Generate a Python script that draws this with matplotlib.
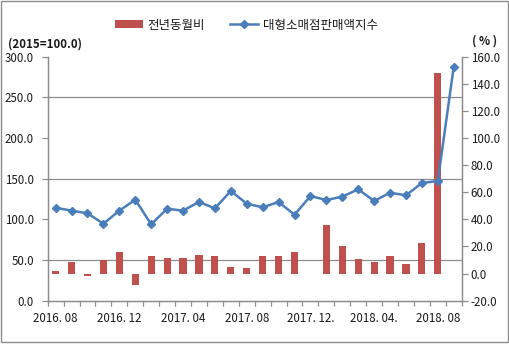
import numpy as np
import matplotlib
matplotlib.use("Agg")
import matplotlib.pyplot as plt
from matplotlib.ticker import FixedLocator, MultipleLocator, FormatStrFormatter, NullFormatter
from matplotlib.patches import Patch, Rectangle
from matplotlib.lines import Line2D

plt.rcParams['font.family'] = ['Noto Sans CJK KR', 'DejaVu Sans']

# Monthly categories
months = ['2016.08', '2016.09', '2016.10', '2016.11', '2016.12', '2017.01',
          '2017.02', '2017.03', '2017.04', '2017.05', '2017.06', '2017.07',
          '2017.08', '2017.09', '2017.10', '2017.11', '2017.12', '2018.01',
          '2018.02', '2018.03', '2018.04', '2018.05', '2018.06', '2018.07',
          '2018.08', '2018.09']

# Large-scale retail sales index (2015=100.0), left axis
sales_index = [114.3, 110.7, 107.5, 94.7, 110.7, 124.2, 93.9, 113.1, 110.7,
               121.4, 113.6, 134.9, 119.3, 114.8, 121.4, 105.7, 128.7, 123.8,
               127.9, 137.0, 122.6, 132.8, 129.6, 144.7, 147.2, 287.7]

# Year-on-year change (%), right axis
yoy_change = [1.8, 8.8, -2.0, 10.3, 16.2, -8.4, 13.2, 11.7, 11.7, 13.9, 13.2,
              4.6, 3.9, 13.2, 12.7, 15.7, -0.5, 36.0, 20.7, 10.5, 8.8, 13.2,
              7.4, 22.9, 147.8]

# Labelled months on the category axis
tick_months = ['2016.08', '2016.12', '2017.04', '2017.08', '2017.12', '2018.04', '2018.08']
tick_texts = ['2016. 08', '2016. 12', '2017. 04', '2017. 08', '2017. 12.', '2018. 04.', '2018. 08']

legend_bar = '전년동월비'
legend_line = '대형소매점판매액지수'

BAR_COLOR = '#C0504D'
LINE_COLOR = '#4A7EBB'
GRID_COLOR = '#8C8C8C'
TEXT_COLOR = '#1A1A1A'
FS = 8.3

fig = plt.figure(figsize=(5.10, 3.47), dpi=100)
ax = fig.add_axes([0.0935, 0.1334, 0.8118, 0.7032])
ax2 = ax.twinx()

x = np.arange(len(months))
xb = np.arange(len(yoy_change))

# bars on the right (%) axis
ax2.bar(xb, yoy_change, width=0.45, color=BAR_COLOR, zorder=3)
ax2.set_ylim(-20, 160)
ax2.yaxis.set_major_locator(MultipleLocator(20))
ax2.yaxis.set_major_formatter(FormatStrFormatter('%.1f'))
# gridlines follow the left-axis steps of 50
ax2.yaxis.set_minor_locator(FixedLocator([10, 40, 70, 100, 130, 160]))
ax2.yaxis.set_minor_formatter(NullFormatter())
ax2.grid(True, which='minor', axis='y', color=GRID_COLOR, lw=0.9, zorder=0)
ax2.grid(False, which='major')
ax2.tick_params(axis='y', which='minor', length=0)
ax2.set_axisbelow(True)

# index line on the left axis, drawn above the bars
ax.set_zorder(ax2.get_zorder() + 1)
ax.patch.set_visible(False)
ax.plot(x, sales_index, color=LINE_COLOR, lw=1.8, marker='D', markersize=4.5,
        markerfacecolor=LINE_COLOR, markeredgecolor=LINE_COLOR, zorder=4)
ax.set_ylim(0, 300)
ax.yaxis.set_major_locator(MultipleLocator(50))
ax.yaxis.set_major_formatter(FormatStrFormatter('%.1f'))

ax.set_xlim(-0.5, len(months) - 0.5)
ax.xaxis.set_major_locator(FixedLocator([months.index(m) for m in tick_months]))
ax.set_xticklabels(tick_texts)
ax.xaxis.set_minor_locator(FixedLocator(np.arange(-0.5, len(months), 1.0)))
ax.tick_params(axis='x', which='major', length=0, pad=8, labelsize=FS, colors=TEXT_COLOR)
ax.tick_params(axis='x', which='minor', length=3.5, color=GRID_COLOR, width=0.9)
ax.tick_params(axis='y', length=4, color=GRID_COLOR, width=0.9, labelsize=FS,
               colors=TEXT_COLOR, pad=6)
ax2.tick_params(axis='y', which='major', length=4, color=GRID_COLOR, width=0.9,
                labelsize=FS, labelcolor=TEXT_COLOR, pad=2.5)
for a in (ax, ax2):
    a.tick_params(axis='y', color=GRID_COLOR)
    a.spines['top'].set_visible(False)
    for s in ('left', 'right', 'bottom'):
        a.spines[s].set_color(GRID_COLOR)
        a.spines[s].set_linewidth(0.9)

# axis unit captions
fig.text(8 / 510, 1 - 44 / 347, '(2015=100.0)', fontsize=FS, fontweight='bold',
         color=TEXT_COLOR, ha='left', va='center')
fig.text(485 / 510, 1 - 41 / 347, '( % )', fontsize=FS, fontweight='bold',
         color=TEXT_COLOR, ha='center', va='center')

handles = [Patch(facecolor=BAR_COLOR, edgecolor='none'),
           Line2D([], [], color=LINE_COLOR, lw=1.8, marker='D', markersize=4)]
fig.legend(handles, [legend_bar, legend_line], loc='center',
           bbox_to_anchor=(0.483, 1 - 25 / 347), ncol=2, frameon=False,
           fontsize=9, handlelength=2.2, handleheight=0.6, columnspacing=2.0,
           handletextpad=0.4, labelcolor=TEXT_COLOR)

# chart-area border
fig.patches.append(Rectangle((1 / 510, 5 / 347), 507 / 510, 341 / 347,
                             transform=fig.transFigure, fill=False,
                             edgecolor='#8C8C8C', lw=1.0))

fig.savefig('out.png', dpi=100)
